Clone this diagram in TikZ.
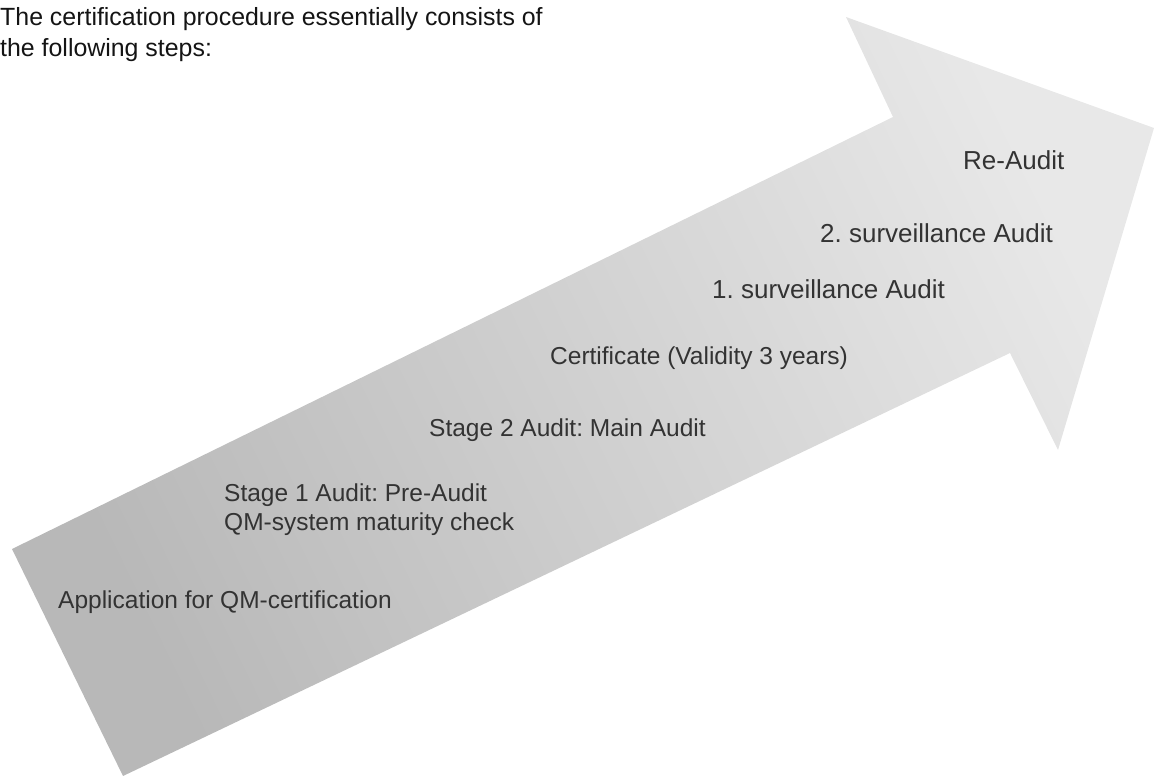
\documentclass[tikz,border=0pt]{standalone}
\usepackage{fontspec}
\setmainfont{Liberation Sans}
\frenchspacing
\begin{document}
\begin{tikzpicture}[x=1pt,y=-1pt,
  steplabel/.style={anchor=base west,inner sep=0pt,text=black!80,font=\fontsize{24.5}{29}\selectfont\frenchspacing},
  steplabelb/.style={steplabel,font=\fontsize{26}{30}\selectfont\frenchspacing},
  titletext/.style={anchor=base west,inner sep=0pt,align=left,text=black!92,font=\fontsize{24.9}{32}\selectfont\frenchspacing}]
\useasboundingbox (0,0) rectangle (1154,776);
\shade[left color=black!28, right color=black!9, shading angle=116]
  (12,549) -- (893,117) -- (846,17) -- (1154,128) -- (1058,450) -- (1010,353) -- (123,776) -- cycle;
\node[titletext] (title) at (0,57) {The certification procedure essentially consists of\\the following steps:};
\node[steplabel] (app) at (58,608) {Application for QM-certification};
\node[steplabel,align=left] (s1) at (224,530) {Stage 1 Audit: Pre-Audit\\QM-system maturity check};
\node[steplabel] (s2) at (429,436) {Stage 2 Audit: Main Audit};
\node[steplabel] (cert) at (550,364) {Certificate (Validity 3 years)};
\node[steplabelb] (sv1) at (712,298) {1. surveillance Audit};
\node[steplabelb] (sv2) at (820,242) {2. surveillance Audit};
\node[steplabelb] (re) at (963,169) {Re-Audit};
\end{tikzpicture}
\end{document}
